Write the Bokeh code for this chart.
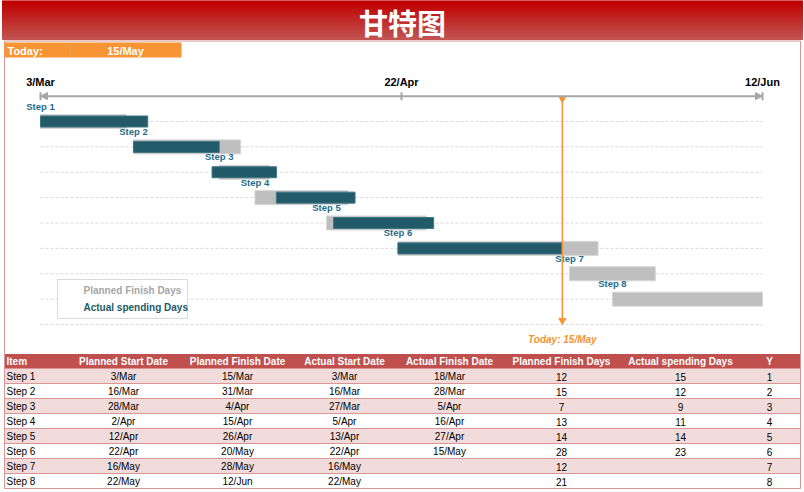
from datetime import datetime
from bokeh.plotting import figure
from bokeh.models import Range1d, ColumnDataSource, Arrow, NormalHead
from bokeh.embed import file_html
from bokeh.resources import INLINE
from bokeh.core.properties import value

# ---------------- data ----------------
title = "甘特图"
today = "15/May"
items = ["Step 1", "Step 2", "Step 3", "Step 4", "Step 5", "Step 6", "Step 7", "Step 8"]
planned_start = ["3/Mar", "16/Mar", "28/Mar", "2/Apr", "12/Apr", "22/Apr", "16/May", "22/May"]
planned_finish = ["15/Mar", "31/Mar", "4/Apr", "15/Apr", "26/Apr", "20/May", "28/May", "12/Jun"]
actual_start = ["3/Mar", "16/Mar", "27/Mar", "5/Apr", "13/Apr", "22/Apr", "16/May", "22/May"]
actual_finish = ["18/Mar", "28/Mar", "5/Apr", "16/Apr", "27/Apr", "15/May", "", ""]
planned_days = [12, 15, 7, 13, 14, 28, 12, 21]
actual_days = [15, 12, 9, 11, 14, 23, None, None]
y_rows = [1, 2, 3, 4, 5, 6, 7, 8]
axis_labels = ["3/Mar", "22/Apr", "12/Jun"]
headers = ["Item", "Planned Start Date", "Planned Finish Date", "Actual Start Date",
           "Actual Finish Date", "Planned Finish Days", "Actual spending Days", "Y"]
legend_labels = ["Planned Finish Days", "Actual spending Days"]

# ---------------- helpers ----------------
def parse(s):
    return datetime.strptime(s + "/2023", "%d/%b/%Y")

origin = parse(axis_labels[0])

def d(s):
    return (parse(s) - origin).days

W, H = 804, 492
X0_PX, X1_PX = 40, 762
span = d(axis_labels[-1]) - d(axis_labels[0])
K = (X1_PX - X0_PX) / span
ROW_PX = 25.375
ROW1_PX = 121

x_range = Range1d(start=-X0_PX / K, end=(W - X0_PX) / K)
y_range = Range1d(start=1 + (H - ROW1_PX) / ROW_PX, end=1 - ROW1_PX / ROW_PX)

p = figure(width=W, height=H, x_range=x_range, y_range=y_range,
           output_backend="svg", toolbar_location=None, min_border=0,
           x_axis_type=None, y_axis_type=None, outline_line_color=None,
           background_fill_color="white", border_fill_color="white")
p.extra_x_ranges = {"px": Range1d(0, W)}
p.extra_y_ranges = {"px": Range1d(H, 0)}
PX = dict(x_range_name="px", y_range_name="px")

FONT = value("Liberation Sans")
ORANGE = "#f79433"
DARK = "#235a69"
GRAY = "#bfbfbf"
PINK = "#d99694"

# ---------------- title band (gradient) ----------------
n = 20
top_c = (192, 0, 0)
bot_c = (194, 82, 80)
for i in range(n):
    t = i / (n - 1)
    c = "#%02x%02x%02x" % tuple(int(top_c[j] + (bot_c[j] - top_c[j]) * t) for j in range(3))
    p.quad(left=2, right=802, top=i * 39 / n, bottom=min(39, (i + 1) * 39 / n + 1),
           fill_color=c, line_color=c, line_width=1, **PX)
p.text(x=[402], y=[21.5], text=[title], text_color="white", text_font=value("Noto Sans CJK SC"),
       text_font_style="bold", text_font_size="29px", text_align="center",
       text_baseline="middle", **PX)

# ---------------- chart frame ----------------
p.segment(x0=[4, 800, 4], y0=[40.5, 40.5, 40.5], x1=[4, 800, 800], y1=[488, 488, 40.5],
          line_color=PINK, line_width=1, **PX)

# today box
p.quad(left=4, right=181, top=42, bottom=57, fill_color=ORANGE, line_color=None, **PX)
p.segment(x0=[70], y0=[42], x1=[70], y1=[57], line_color="#f9b06e", line_dash="1 2", **PX)
p.text(x=[7], y=[50], text=["Today:"], text_color="white", text_font=FONT,
       text_font_style="bold", text_font_size="11px", text_baseline="middle", **PX)
p.text(x=[125], y=[50], text=[today], text_color="white", text_font=FONT,
       text_font_style="bold", text_font_size="11px", text_align="center",
       text_baseline="middle", **PX)

# ---------------- gridlines ----------------
grid_rows = y_rows + [y_rows[-1] + 1]
p.segment(x0=[0] * len(grid_rows), y0=grid_rows, x1=[span] * len(grid_rows), y1=grid_rows,
          line_color="#d9d9d9", line_dash="3 2", line_width=1)

# ---------------- axis ----------------
tick_x = [d(axis_labels[0]), (d(axis_labels[0]) + d(axis_labels[-1])) / 2, d(axis_labels[-1])]
p.add_layout(Arrow(x_start=0, y_start=0, x_end=span, y_end=0, line_color="#a6a6a6", line_width=2,
                   start=NormalHead(size=7, fill_color="#a6a6a6", line_color="#a6a6a6"),
                   end=NormalHead(size=7, fill_color="#a6a6a6", line_color="#a6a6a6")))
tk = 4 / ROW_PX
p.segment(x0=tick_x, y0=[-tk] * 3, x1=tick_x, y1=[tk] * 3, line_color="#a6a6a6", line_width=2)
p.text(x=tick_x, y=[-14 / ROW_PX] * 3, text=axis_labels, text_color="black", text_font=FONT,
       text_font_style="bold", text_font_size="11px", text_align="center", text_baseline="middle")

# ---------------- bars ----------------
ps = [d(s) for s in planned_start]
src_p = ColumnDataSource(dict(y=y_rows, left=ps, right=[a + b for a, b in zip(ps, planned_days)]))
p.hbar(y="y", left="left", right="right", height=14 / ROW_PX, source=src_p,
       fill_color=GRAY, line_color="#d6d6d6", line_width=1)

ay, al, ar = [], [], []
for r, s, n_ in zip(y_rows, actual_start, actual_days):
    if n_ is not None:
        ay.append(r); al.append(d(s)); ar.append(d(s) + n_)
src_a = ColumnDataSource(dict(y=ay, left=al, right=ar))
p.hbar(y="y", left="left", right="right", height=11 / ROW_PX, source=src_a,
       fill_color=DARK, line_color="#3f7482", line_width=1)

# step labels
p.text(x=ps, y=[r - 15.5 / ROW_PX for r in y_rows], text=items, text_color="#1f6b8a",
       text_font=FONT, text_font_style="bold", text_font_size="9.5px", text_align="center",
       text_baseline="middle")

# ---------------- today line ----------------
tday = d(today)
bottom_row = 1 + (318 - ROW1_PX) / ROW_PX
p.segment(x0=[tday], y0=[0], x1=[tday], y1=[bottom_row], line_color=ORANGE, line_width=1.5)
p.scatter(x=[tday], y=[0.12], marker="inverted_triangle", size=6, fill_color=ORANGE, line_color=ORANGE)
p.scatter(x=[tday], y=[bottom_row + 2 / ROW_PX], marker="inverted_triangle", size=7,
          fill_color=ORANGE, line_color=ORANGE)
p.text(x=[tday], y=[1 + (339 - ROW1_PX) / ROW_PX], text=["Today: " + today], text_color=ORANGE,
       text_font=FONT, text_font_style="bold italic", text_font_size="10px", text_align="center",
       text_baseline="middle")

# ---------------- legend ----------------
p.quad(left=57, right=187, top=279, bottom=318, fill_color="white", line_color="#d9d9d9", **PX)
p.text(x=[83, 83], y=[289.5, 307], text=legend_labels, text_color=["#a6a6a6", DARK], text_font=FONT,
       text_font_style="bold", text_font_size="10px", text_baseline="middle", **PX)

# ---------------- table ----------------
HDR_TOP, ROW0, RH = 353.5, 368, 15
p.quad(left=4, right=800, top=HDR_TOP, bottom=ROW0, fill_color="#c0504d", line_color=None, **PX)
nrows = len(items)
p.quad(left=[4] * nrows, right=[800] * nrows, top=[ROW0 + RH * i for i in range(nrows)],
       bottom=[ROW0 + RH * (i + 1) for i in range(nrows)],
       fill_color=["#f2dcdb" if i % 2 == 0 else "white" for i in range(nrows)], line_color=None, **PX)
hl = [ROW0 + RH * i for i in range(nrows + 1)]
p.segment(x0=[4] * len(hl), y0=hl, x1=[800] * len(hl), y1=hl, line_color=PINK, line_width=1, **PX)
p.segment(x0=[4, 800], y0=[HDR_TOP, HDR_TOP], x1=[4, 800], y1=[hl[-1], hl[-1]], line_color=PINK, **PX)

col_x = [6, 123, 237, 344, 449, 561, 680, 769]
col_align = ["left"] + ["center"] * 7
columns = [items, planned_start, planned_finish, actual_start, actual_finish,
           [str(v) for v in planned_days], ["" if v is None else str(v) for v in actual_days],
           [str(v) for v in y_rows]]
for cx, al_, h, col in zip(col_x, col_align, headers, columns):
    p.text(x=[cx], y=[361], text=[h], text_color="white", text_font=FONT, text_font_style="bold",
           text_font_size="10px", text_align=al_, text_baseline="middle", **PX)
    p.text(x=[cx] * nrows, y=[ROW0 + RH * i + 8 for i in range(nrows)], text=col, text_color="black",
           text_font=FONT, text_font_size="10px", text_align=al_, text_baseline="middle", **PX)

open("out.html", "w").write(file_html(p, INLINE))
